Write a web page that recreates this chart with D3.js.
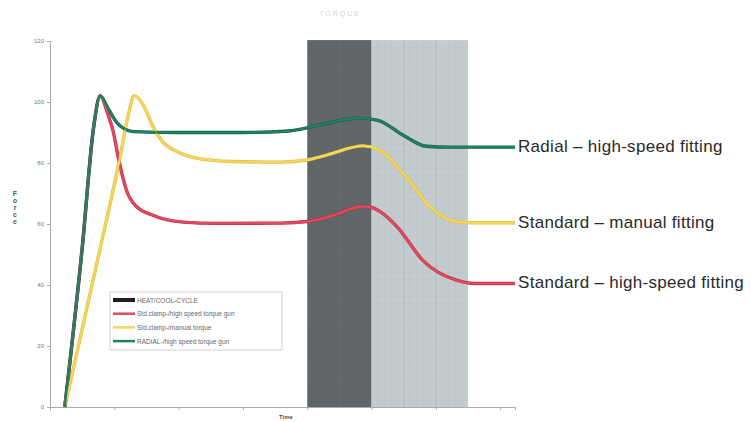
<!DOCTYPE html>
<html>
<head>
<meta charset="utf-8">
<script src="https://cdn.jsdelivr.net/npm/d3@7"></script>
<style>
  body { margin: 0; background: #fff; }
  svg { display: block; font-family: "Liberation Sans", Arial, sans-serif; }
</style>
</head>
<body>
<svg class="chart"></svg>
<script>
var svgWidth = 751, svgHeight = 422;

// y axis ticks
var yTicks = [0, 20, 40, 60, 80, 100, 120];
// heat / cool cycle bands (time units)
var heatBand = [4, 5];
var coolBand = [5, 6.5];

// series (time, value)
var radialTime  = [0.23, 0.5, 0.68, 0.78, 0.9, 1.05, 1.3, 2, 3, 3.7, 4.2, 4.8, 5.1, 5.5, 5.85, 6.2, 7.23];
var radialValue = [0, 52, 92, 102, 98, 93, 90.3, 90, 90, 90.5, 92.5, 94.7, 94, 89, 85.5, 85.2, 85.2];

var stdHighTime  = [0.23, 0.5, 0.68, 0.78, 0.9, 0.98, 1.06, 1.19, 1.35, 1.56, 2.07, 2.6, 3.6, 4.0, 4.35, 4.87, 5.1, 5.4, 5.8, 6.33, 6.6, 7.23];
var stdHighValue = [0, 52, 92, 102, 96, 90.5, 82, 71, 65.6, 63.2, 60.6, 60.2, 60.3, 60.8, 62.5, 65.8, 64.5, 59, 48, 41.5, 40.5, 40.5];

var stdManualTime  = [0.23, 0.78, 1.1, 1.22, 1.31, 1.45, 1.6, 1.75, 2.0, 2.3, 2.8, 3.6, 4.0, 4.3, 4.87, 5.1, 5.49, 5.91, 6.33, 6.6, 7.23];
var stdManualValue = [0, 52, 83, 96, 102, 99, 92, 87, 83.5, 81.5, 80.5, 80.3, 81, 82.6, 85.6, 84.5, 76.7, 65.6, 60.7, 60.4, 60.4];

var legendNames = ['HEAT/COOL-CYCLE', 'Std.clamp-/high speed torque gun', 'Std.clamp-/manual torque', 'RADIAL-/high speed torque gun'];
var endLabels = ['Radial \u2013 high-speed fitting', 'Standard \u2013 manual fitting', 'Standard \u2013 high-speed fitting'];

var svg = d3.select('svg.chart').attr('width', svgWidth).attr('height', svgHeight);

var x = d3.scaleLinear().domain([0, 7.23]).range([50, 515]);
var y = d3.scaleLinear().domain([0, 120]).range([407, 41]);

// bands with fine grid
function band(range, fill, gridColor) {
  var g = svg.append('g');
  g.append('rect')
    .attr('x', x(range[0])).attr('y', y(120.3))
    .attr('width', x(range[1]) - x(range[0]))
    .attr('height', y(0) - y(120.3))
    .attr('fill', fill);
  var vx = d3.range(range[0] + 0.1, range[1] - 0.01, 0.1);
  g.selectAll('line.v').data(vx).enter().append('line')
    .attr('x1', function(d) { return x(d); }).attr('x2', function(d) { return x(d); })
    .attr('y1', y(120.3)).attr('y2', y(0))
    .attr('stroke', gridColor)
    .attr('stroke-width', function(d, i) { return (i % 5 === 4) ? 1 : 0.6; })
    .attr('opacity', function(d, i) { return (i % 5 === 4) ? 0.55 : 0.3; });
  var hy = d3.range(2, 120, 2);
  g.selectAll('line.h').data(hy).enter().append('line')
    .attr('x1', x(range[0])).attr('x2', x(range[1]))
    .attr('y1', function(d) { return y(d); }).attr('y2', function(d) { return y(d); })
    .attr('stroke', gridColor).attr('stroke-width', 0.5).attr('opacity', 0.25);
}
band(heatBand, '#606568', '#75797c');
band(coolBand, '#c5ccd0', '#a9b1b6');

// axes
var yAxis = d3.axisLeft(y).tickValues(yTicks).tickSize(3).tickPadding(3);
var gy = svg.append('g').attr('transform', 'translate(50,0)').call(yAxis);
gy.select('.domain').attr('stroke', '#aaa');
gy.selectAll('.tick line').attr('stroke', '#aaa');
gy.selectAll('.tick text').attr('fill', '#777').style('font-size', '6px');

var xAxis = d3.axisBottom(x).tickValues(d3.range(1, 8)).tickSize(3).tickFormat('');
var gx = svg.append('g').attr('transform', 'translate(0,407)').call(xAxis);
gx.select('.domain').attr('stroke', '#aaa');
gx.selectAll('.tick line').attr('stroke', '#aaa');

// series lines
var line = d3.line()
  .x(function(d) { return x(d[0]); })
  .y(function(d) { return y(d[1]); })
  .curve(d3.curveMonotoneX);

var series = [
  { name: 'stdHigh', color: '#e04a62', edge: '#b8344c', pts: d3.zip(stdHighTime, stdHighValue) },
  { name: 'stdManual', color: '#f2d65e', edge: '#e0bf3c', pts: d3.zip(stdManualTime, stdManualValue) },
  { name: 'radial', color: '#23805f', edge: '#16604a', pts: d3.zip(radialTime, radialValue) }
];

svg.selectAll('path.edge').data(series).enter().append('path')
  .attr('class', 'edge')
  .attr('d', function(d) { return line(d.pts); })
  .attr('fill', 'none').attr('stroke', function(d) { return d.edge; })
  .attr('stroke-width', 3.4).attr('stroke-linejoin', 'round');
svg.selectAll('path.series').data(series).enter().append('path')
  .attr('class', 'series')
  .attr('d', function(d) { return line(d.pts); })
  .attr('fill', 'none').attr('stroke', function(d) { return d.color; })
  .attr('stroke-width', 2.2).attr('stroke-linejoin', 'round');

// end labels
var labelSeries = [series[2], series[1], series[0]];
svg.selectAll('text.endlabel').data(endLabels).enter().append('text')
  .attr('class', 'endlabel')
  .attr('x', 518)
  .attr('y', function(d, i) { var p = labelSeries[i].pts; return y(p[p.length - 1][1]) + 5; })
  .attr('fill', '#2a2a2a')
  .style('font-size', '17px')
  .style('letter-spacing', '0.3px')
  .text(function(d) { return d; });

// legend
var legend = svg.append('g').attr('transform', 'translate(110,292)');
legend.append('rect').attr('width', 172).attr('height', 58)
  .attr('fill', '#fff').attr('stroke', '#c8c8c8').attr('stroke-width', 0.8);
var legendColors = ['#1e1e1e', '#e04a62', '#f2d65e', '#23805f'];
var rows = legend.selectAll('g.row').data(legendNames).enter().append('g')
  .attr('transform', function(d, i) { return 'translate(0,' + (8 + i * 13.7) + ')'; });
rows.append('line').attr('x1', 3).attr('x2', 25).attr('y1', 0).attr('y2', 0)
  .attr('stroke', function(d, i) { return legendColors[i]; })
  .attr('stroke-width', function(d, i) { return i === 0 ? 4 : 2.5; });
rows.append('text').attr('x', 27).attr('y', 2.5)
  .attr('fill', '#666').style('font-size', '6.5px')
  .text(function(d) { return d; });

// title, axis labels (faint in the source)
svg.append('text').attr('x', 340).attr('y', 16).attr('text-anchor', 'middle')
  .attr('fill', '#d4d4d4').style('font-size', '7px').style('letter-spacing', '2px')
  .text('TORQUE');
svg.append('text').attr('x', 286).attr('y', 419).attr('text-anchor', 'middle')
  .attr('fill', '#555').style('font-size', '6px').style('font-weight', 'bold')
  .text('Time');
svg.append('g').selectAll('text').data('Force'.split('')).enter().append('text')
  .attr('x', 15).attr('y', function(d, i) { return 196 + i * 7; })
  .attr('text-anchor', 'middle').attr('fill', '#555')
  .style('font-size', '7px').style('font-weight', 'bold')
  .text(function(d) { return d; });
</script>
</body>
</html>
